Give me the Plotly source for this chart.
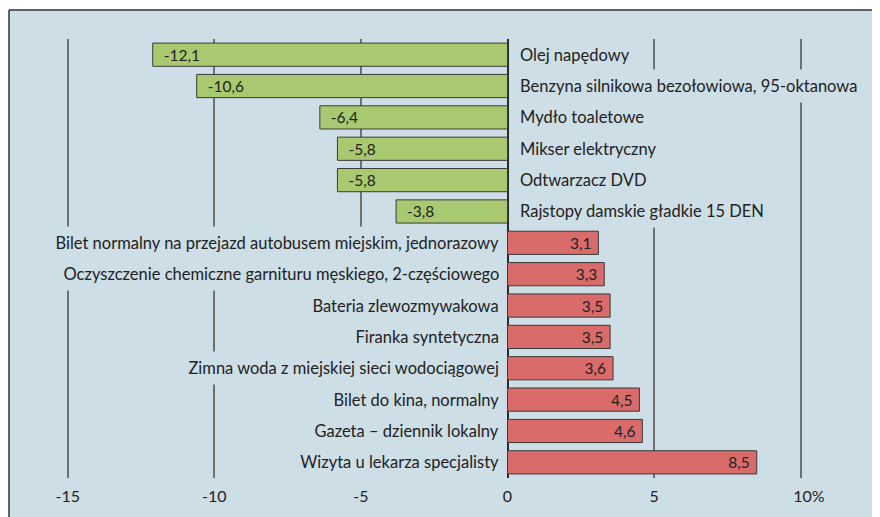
import plotly.graph_objects as go

categories = [
    "Olej napędowy",
    "Benzyna silnikowa bezołowiowa, 95-oktanowa",
    "Mydło toaletowe",
    "Mikser elektryczny",
    "Odtwarzacz DVD",
    "Rajstopy damskie gładkie 15 DEN",
    "Bilet normalny na przejazd autobusem miejskim, jednorazowy",
    "Oczyszczenie chemiczne garnituru męskiego, 2-częściowego",
    "Bateria zlewozmywakowa",
    "Firanka syntetyczna",
    "Zimna woda z miejskiej sieci wodociągowej",
    "Bilet do kina, normalny",
    "Gazeta – dziennik lokalny",
    "Wizyta u lekarza specjalisty",
]
values = [-12.1, -10.6, -6.4, -5.8, -5.8, -3.8, 3.1, 3.3, 3.5, 3.5, 3.6, 4.5, 4.6, 8.5]
tick_values = [-15, -10, -5, 0, 5, 10]
tick_labels = ["-15", "-10", "-5", "0", "5", "\u00a0\u00a0\u00a0\u00a010%"]

BG = "#cddee6"
GREEN = "#a8c96f"
RED = "#d96b6b"
FONT = "Lato"
TXT = "#222222"

# page body has an 8px margin, so the figure is 8px smaller than the window
W, H = 872, 509
ML, MR, MT, MB = 1, 0, 31, 39
plot_w = W - ML - MR
plot_h = H - MT - MB
px_per_unit = 29.32
zero_px = 499.5
x_lo = -(zero_px - ML) / px_per_unit
x_hi = (W - MR - zero_px) / px_per_unit

def fmt(v):
    return f"{v:.1f}".replace(".", ",")

neg = [(c, v) for c, v in zip(categories, values) if v < 0]
pos = [(c, v) for c, v in zip(categories, values) if v >= 0]

fig = go.Figure()
fig.add_trace(go.Bar(
    y=[c for c, _ in neg], x=[v for _, v in neg], orientation="h",
    marker=dict(color=GREEN, line=dict(color="#3a3a3a", width=1)),
    text=["\u00a0\u00a0" + fmt(v) for _, v in neg], textposition="inside",
    insidetextanchor="end", textangle=0,
    textfont=dict(family=FONT, size=15.5, color=TXT),
    width=0.74, hoverinfo="skip",
))
fig.add_trace(go.Bar(
    y=[c for c, _ in pos], x=[v for _, v in pos], orientation="h",
    marker=dict(color=RED, line=dict(color="#3a3a3a", width=1)),
    text=[fmt(v) + "\u00a0" for _, v in pos], textposition="inside",
    insidetextanchor="end", textangle=0,
    textfont=dict(family=FONT, size=15.5, color=TXT),
    width=0.74, hoverinfo="skip",
))

annotations = []
for c, v in zip(categories, values):
    if v < 0:
        annotations.append(dict(x=0, y=c, xref="x", yref="y", text=c + "\u00a0\u00a0", showarrow=False,
                                xanchor="left", xshift=5, bgcolor=BG, borderpad=6,
                                font=dict(family=FONT, size=16.5, color=TXT)))
    else:
        annotations.append(dict(x=0, y=c, xref="x", yref="y", text="\u00a0\u00a0" + c, showarrow=False,
                                xanchor="right", xshift=-2, bgcolor=BG, borderpad=6,
                                font=dict(family=FONT, size=16.5, color=TXT)))

top_paper = 1 + (MT - 2) / plot_h
bottom_paper = -MB / plot_h
left_paper = 0
right_paper = 1

shapes = [
    dict(type="rect", xref="paper", yref="paper", x0=left_paper, x1=right_paper + 0.01,
         y0=bottom_paper - 0.01, y1=top_paper, fillcolor=BG, line=dict(width=0), layer="below"),
    dict(type="line", xref="paper", yref="paper", x0=left_paper, x1=right_paper + 0.01,
         y0=top_paper, y1=top_paper, line=dict(color="#333333", width=1.5)),
    dict(type="line", xref="paper", yref="paper", x0=left_paper, x1=left_paper,
         y0=bottom_paper - 0.01, y1=top_paper, line=dict(color="#333333", width=1.5)),
]

fig.update_layout(
    width=W, height=H,
    margin=dict(l=ML, r=MR, t=MT, b=MB),
    paper_bgcolor="white", plot_bgcolor="rgba(0,0,0,0)",
    showlegend=False, barmode="overlay",
    annotations=annotations, shapes=shapes,
    font=dict(family=FONT, size=15, color=TXT),
    uniformtext=dict(mode="show", minsize=15),
)
fig.update_xaxes(
    range=[x_lo, x_hi], tickvals=tick_values, ticktext=tick_labels,
    showgrid=True, gridcolor="#6d7174", gridwidth=1.6,
    zeroline=True, zerolinecolor="#2b2b2b", zerolinewidth=1.5,
    showline=False, ticks="", ticklabelstandoff=7,
    tickfont=dict(family=FONT, size=16, color=TXT),
)
fig.update_yaxes(
    categoryorder="array", categoryarray=categories,
    range=[len(categories) - 0.5, -0.5], showticklabels=False,
    showgrid=False, zeroline=False, showline=False, ticks="",
)

fig.write_html("out.html")
